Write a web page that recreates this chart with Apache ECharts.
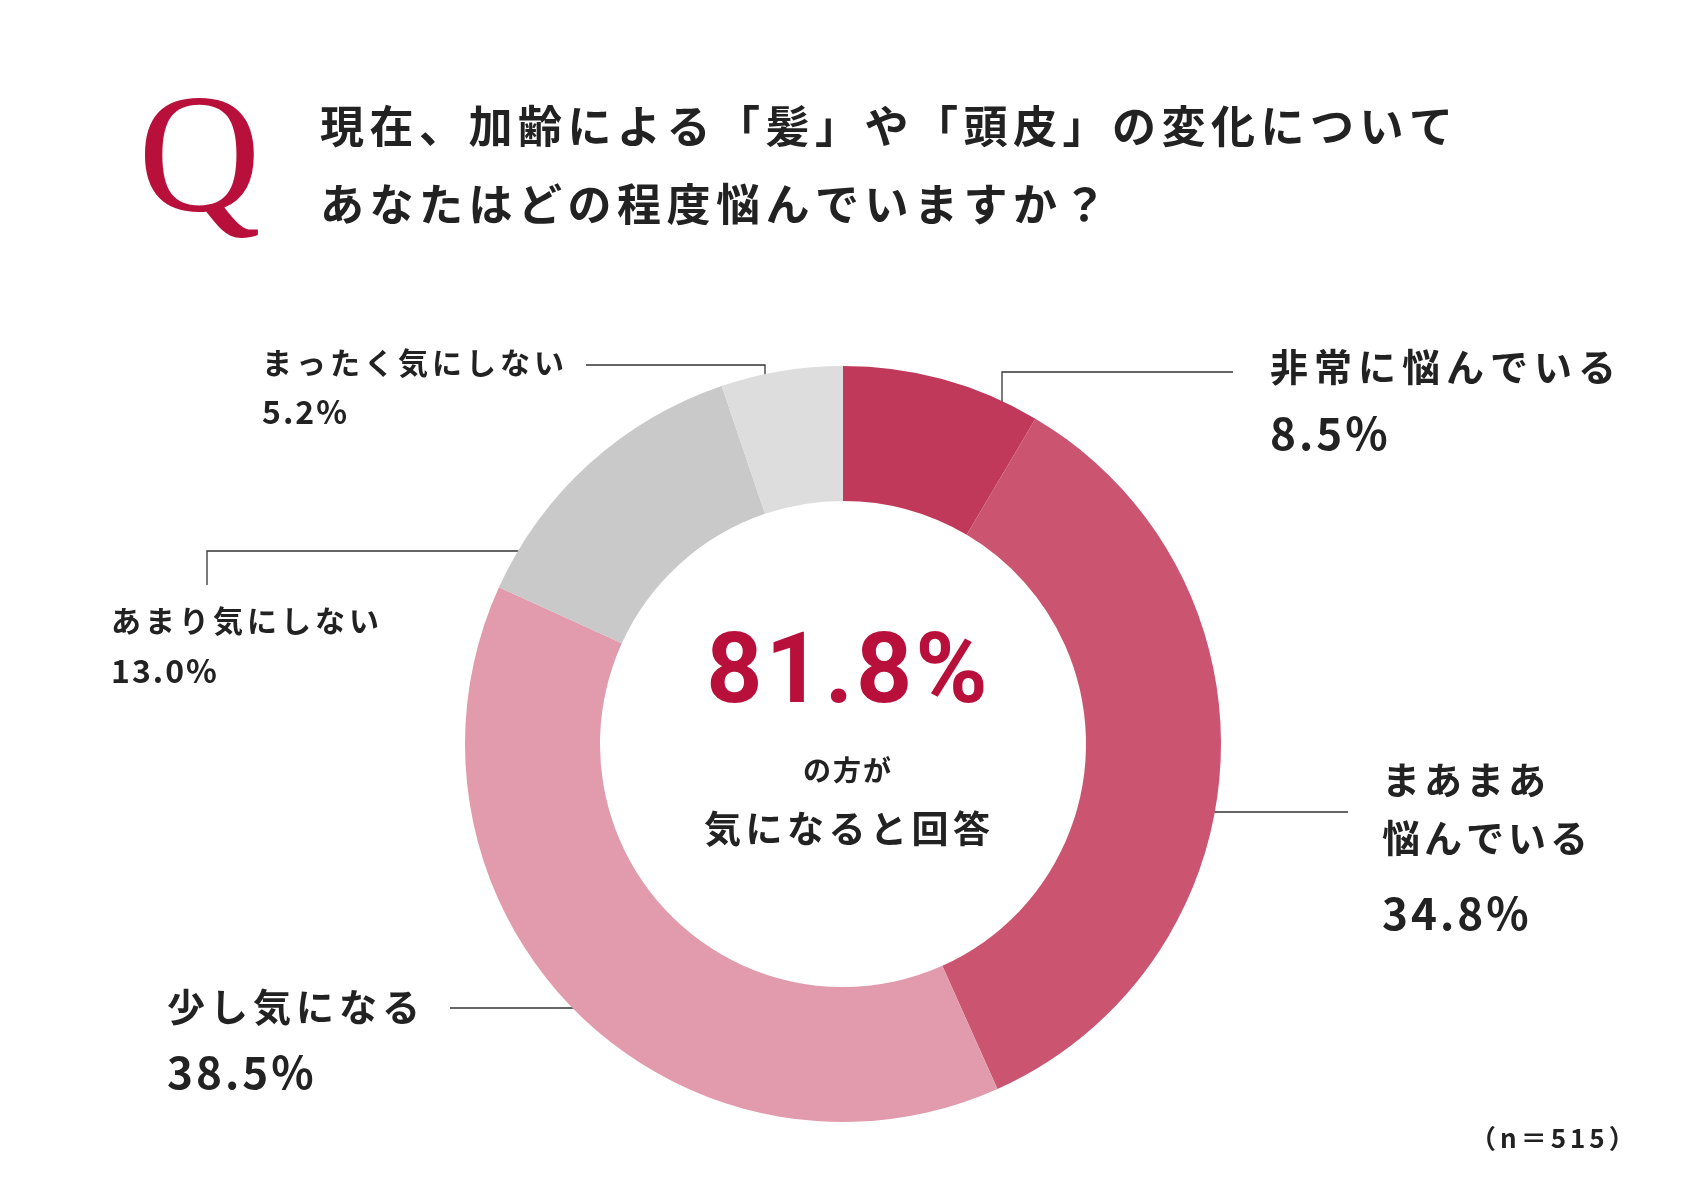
<!DOCTYPE html>
<html><head><meta charset="utf-8">
<script src="https://cdn.jsdelivr.net/npm/echarts@6/dist/echarts.min.js"></script>
<style>html,body{margin:0;padding:0;background:#fff}#c{width:1684px;height:1191px}</style>
</head><body><div id="c"></div>
<script>
const categories=['非常に悩んでいる','まあまあ悩んでいる','少し気になる','あまり気にしない','まったく気にしない'];
const values=[8.5,34.8,38.5,13.0,5.2];
const colors=['#c0385a','#cb5570','#e19bad','#c8c9c8','#dcdddc'];
const F='"Noto Sans CJK JP", sans-serif';
const chart=echarts.init(document.getElementById('c'));
// spaced text: each character placed at fixed step (letter-spacing)
function sp(text,x,y,size,step,fill,center,family){
  const chars=Array.from(text);const out=[];
  const ctx=document.createElement('canvas').getContext('2d');
  const font='bold '+size+'px '+(family||F);ctx.font=font;
  const ws=chars.map(c=>ctx.measureText(c).width);
  const total=ws.reduce((a,b)=>a+b,0)+(chars.length-1)*step;
  let cx=center?x-total/2:x;
  chars.forEach((c,i)=>{out.push({type:'text',style:{text:c,x:cx,y:y,textVerticalAlign:'middle',font:font,fill:fill||'#222'}});cx+=ws[i]+step;});
  return out;
}
function pl(pts){return {type:'polyline',shape:{points:pts},style:{stroke:'#333',lineWidth:1.3,fill:null}};}
const pct=v=>v.toFixed(1)+'%';
const total=values.slice(0,3).reduce((a,b)=>a+b,0);
chart.setOption({
 animation:false,
 series:[{type:'pie',center:[843,744],radius:[243,378],startAngle:90,clockwise:true,label:{show:false},labelLine:{show:false},
   data:categories.map((c,i)=>({name:c,value:values[i],itemStyle:{color:colors[i]}}))}],
 graphic:[].concat(
  [{type:'text',left:138,top:80,style:{text:'Q',font:'170px "Liberation Serif", serif',fill:'#b8103a'}}],
  sp('現在、加齢による「髪」や「頭皮」の変化について',320,126,44,5.5),
  sp('あなたはどの程度悩んでいますか？',320,204,44,5.5),
  sp(pct(total),847,677,98,3,'#b8103a',true,'Roboto, sans-serif'),
  sp('の方が',847,770,28,2,'#222',true),
  sp('気になると回答',847,829,37,4.5,'#222',true),
  sp('非常に悩んでいる',1270,367,38,6),
  sp(pct(values[0]),1270,433,44,3),
  sp('まあまあ',1382,780,38,4),
  sp('悩んでいる',1382,838,38,4),
  sp(pct(values[1]),1382,913,44,3),
  sp('少し気になる',167,1007,38,5),
  sp(pct(values[2]),167,1072,44,3),
  sp('あまり気にしない',111,621,30,4),
  sp(pct(values[3]),111,671,32,2),
  sp('まったく気にしない',262,363,30,4),
  sp(pct(values[4]),262,412,32,2),
  [pl([[1002,418],[1002,372],[1233,372]]),
  pl([[1188,812],[1348,812]]),
  pl([[450,1008],[632,1008]]),
  pl([[207,585],[207,551],[567,551]]),
  pl([[586,365],[765,365],[765,400]])],
  sp('（n＝515）',1470,1138,26,4)
 )
});
</script></body></html>
